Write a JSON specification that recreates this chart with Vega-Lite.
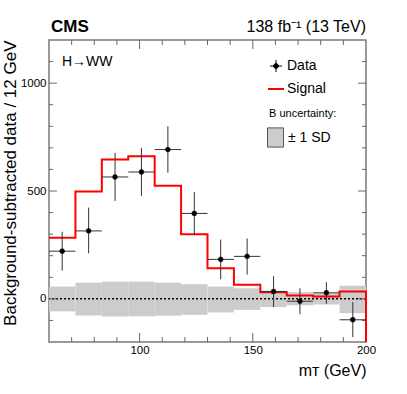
{
  "$schema": "https://vega.github.io/schema/vega-lite/v6.json",
  "width": 317,
  "height": 302,
  "autosize": "none",
  "padding": {"left": 49, "top": 40, "right": 41, "bottom": 52},
  "datasets": {
    "bins": [
      {"lo": 60, "hi": 71.67, "mid": 65.83, "data": 221, "dlo": 131, "dhi": 311, "blo": -58, "bhi": 57},
      {"lo": 71.67, "hi": 83.33, "mid": 77.5, "data": 315, "dlo": 211, "dhi": 423, "blo": -77, "bhi": 75},
      {"lo": 83.33, "hi": 95, "mid": 89.17, "data": 565, "dlo": 454, "dhi": 677, "blo": -82, "bhi": 80},
      {"lo": 95, "hi": 106.67, "mid": 100.83, "data": 588, "dlo": 477, "dhi": 700, "blo": -81, "bhi": 80},
      {"lo": 106.67, "hi": 118.33, "mid": 112.5, "data": 692, "dlo": 585, "dhi": 800, "blo": -78, "bhi": 75},
      {"lo": 118.33, "hi": 130, "mid": 124.17, "data": 396, "dlo": 295, "dhi": 495, "blo": -74, "bhi": 68},
      {"lo": 130, "hi": 141.67, "mid": 135.83, "data": 183, "dlo": 91, "dhi": 275, "blo": -63, "bhi": 57},
      {"lo": 141.67, "hi": 153.33, "mid": 147.5, "data": 197, "dlo": 112, "dhi": 280, "blo": -51, "bhi": 49},
      {"lo": 153.33, "hi": 165, "mid": 159.17, "data": 34, "dlo": -38, "dhi": 105, "blo": -38, "bhi": 38},
      {"lo": 165, "hi": 176.67, "mid": 170.83, "data": -11, "dlo": -71, "dhi": 49, "blo": -30, "bhi": 31},
      {"lo": 176.67, "hi": 188.33, "mid": 182.5, "data": 28, "dlo": -23, "dhi": 78, "blo": -26, "bhi": 26},
      {"lo": 188.33, "hi": 200, "mid": 194.17, "data": -97, "dlo": -177, "dhi": -15, "blo": -66, "bhi": 61}
    ],
    "signal": [
      {"x": 60, "sig": 283},
      {"x": 71.67, "sig": 498},
      {"x": 83.33, "sig": 646},
      {"x": 95, "sig": 661},
      {"x": 106.67, "sig": 524},
      {"x": 118.33, "sig": 300},
      {"x": 130, "sig": 142},
      {"x": 141.67, "sig": 65},
      {"x": 153.33, "sig": 31},
      {"x": 165, "sig": 15},
      {"x": 176.67, "sig": 11},
      {"x": 188.33, "sig": 34},
      {"x": 200, "sig": 34},
      {"x": 200, "sig": -200}
    ],
    "xmaj": [{"v": 100}, {"v": 150}],
    "xmin": [{"v": 70}, {"v": 80}, {"v": 90}, {"v": 110}, {"v": 120}, {"v": 130}, {"v": 140}, {"v": 160}, {"v": 170}, {"v": 180}, {"v": 190}],
    "ymaj": [{"v": 0}, {"v": 500}, {"v": 1000}],
    "ymin": [{"v": -100}, {"v": 100}, {"v": 200}, {"v": 300}, {"v": 400}, {"v": 600}, {"v": 700}, {"v": 800}, {"v": 900}, {"v": 1100}]
  },
  "resolve": {"axis": {"x": "independent", "y": "independent"}},
  "layer": [
    {
      "data": {"name": "bins"},
      "mark": {"type": "rect", "opacity": 1},
      "encoding": {
        "x": {"field": "lo", "type": "quantitative", "scale": {"domain": [60, 200], "nice": false, "zero": false},
          "axis": {"orient": "bottom", "values": [100, 150, 200], "domain": false, "ticks": false,
            "labelPadding": 2, "labelFlush": false, "labelOverlap": false,
            "title": "mᴛ (GeV)", "titleAnchor": "end", "titleFontSize": 16, "titlePadding": 7}},
        "x2": {"field": "hi"},
        "y": {"field": "blo", "type": "quantitative", "scale": {"domain": [-200, 1200], "nice": false, "zero": false},
          "axis": {"orient": "left", "values": [0, 500, 1000], "domain": false, "ticks": false, "format": "d",
            "labelPadding": 3, "labelOverlap": false,
            "title": "Background-subtracted data / 12 GeV", "titleAnchor": "end", "titleFontSize": 17, "titlePadding": 1}},
        "y2": {"field": "bhi"},
        "fill": {"datum": "± 1 SD", "type": "nominal", "scale": {"domain": ["± 1 SD"], "range": ["#cccccc"]},
          "legend": {"title": "B uncertainty:", "orient": "none", "legendX": 218, "legendY": 68,
            "titleFont": "Liberation Sans", "titleFontSize": 11, "titleFontWeight": "normal", "titleColor": "black", "titlePadding": 10,
            "labelFont": "Liberation Sans", "labelFontSize": 14, "labelColor": "black", "labelOffset": 4,
            "symbolType": "M-1,-1.2H1V1.2H-1Z", "symbolSize": 256, "symbolStrokeColor": "#555555", "symbolStrokeWidth": 1,
            "encode": {"title": {"update": {"dx": {"value": 2}}}}}}
      }
    },
    {
      "data": {"values": [{}]},
      "mark": {"type": "rule", "color": "black", "strokeDash": [2, 2], "strokeWidth": 1.5},
      "encoding": {"y": {"datum": 0, "type": "quantitative", "axis": null}}
    },
    {
      "data": {"name": "xmaj"},
      "mark": {"type": "rule", "color": "#666666", "strokeWidth": 1},
      "encoding": {"x": {"field": "v", "type": "quantitative", "axis": null}, "y": {"datum": -200, "type": "quantitative", "axis": null}, "y2": {"datum": -158}}
    },
    {
      "data": {"name": "xmaj"},
      "mark": {"type": "rule", "color": "#666666", "strokeWidth": 1},
      "encoding": {"x": {"field": "v", "type": "quantitative", "axis": null}, "y": {"datum": 1200, "type": "quantitative", "axis": null}, "y2": {"datum": 1158}}
    },
    {
      "data": {"name": "xmin"},
      "mark": {"type": "rule", "color": "#666666", "strokeWidth": 1},
      "encoding": {"x": {"field": "v", "type": "quantitative", "axis": null}, "y": {"datum": -200, "type": "quantitative", "axis": null}, "y2": {"datum": -177}}
    },
    {
      "data": {"name": "xmin"},
      "mark": {"type": "rule", "color": "#666666", "strokeWidth": 1},
      "encoding": {"x": {"field": "v", "type": "quantitative", "axis": null}, "y": {"datum": 1200, "type": "quantitative", "axis": null}, "y2": {"datum": 1177}}
    },
    {
      "data": {"name": "ymaj"},
      "mark": {"type": "rule", "color": "#666666", "strokeWidth": 1},
      "encoding": {"y": {"field": "v", "type": "quantitative", "axis": null}, "x": {"datum": 60, "type": "quantitative", "axis": null}, "x2": {"datum": 63.5}}
    },
    {
      "data": {"name": "ymaj"},
      "mark": {"type": "rule", "color": "#666666", "strokeWidth": 1},
      "encoding": {"y": {"field": "v", "type": "quantitative", "axis": null}, "x": {"datum": 200, "type": "quantitative", "axis": null}, "x2": {"datum": 196.5}}
    },
    {
      "data": {"name": "ymin"},
      "mark": {"type": "rule", "color": "#666666", "strokeWidth": 1},
      "encoding": {"y": {"field": "v", "type": "quantitative", "axis": null}, "x": {"datum": 60, "type": "quantitative", "axis": null}, "x2": {"datum": 61.8}}
    },
    {
      "data": {"name": "ymin"},
      "mark": {"type": "rule", "color": "#666666", "strokeWidth": 1},
      "encoding": {"y": {"field": "v", "type": "quantitative", "axis": null}, "x": {"datum": 200, "type": "quantitative", "axis": null}, "x2": {"datum": 198.2}}
    },
    {
      "data": {"name": "signal"},
      "mark": {"type": "line", "interpolate": "step-after", "strokeWidth": 2},
      "encoding": {
        "x": {"field": "x", "type": "quantitative", "axis": null},
        "y": {"field": "sig", "type": "quantitative", "axis": null},
        "stroke": {"datum": "Signal", "type": "nominal", "scale": {"domain": ["Data", "Signal"], "range": ["#000000", "#ff0000"]},
          "legend": {"title": null, "orient": "none", "legendX": 220, "legendY": 19,
            "labelFont": "Liberation Sans", "labelFontSize": 14, "labelColor": "black", "labelOffset": 4, "rowPadding": 8,
            "symbolSize": 256,
            "encode": {"symbols": {"update": {
              "shape": {"signal": "datum.value === 'Data' ? 'M-0.75,0H0.75M0,-0.75V0.75M0.3,0A0.3,0.3 0 1,1 -0.3,0A0.3,0.3 0 1,1 0.3,0Z' : 'M-1,0H1'"},
              "fill": {"signal": "datum.value === 'Data' ? '#000000' : 'transparent'"},
              "stroke": {"signal": "datum.value === 'Data' ? '#333333' : '#ff0000'"},
              "strokeWidth": {"signal": "datum.value === 'Data' ? 1 : 2"},
              "opacity": {"value": 1}
            }}}}}
      }
    },
    {
      "data": {"name": "bins"},
      "mark": {"type": "rule", "color": "#333333", "strokeWidth": 1},
      "encoding": {
        "x": {"field": "mid", "type": "quantitative", "axis": null},
        "y": {"field": "dlo", "type": "quantitative", "axis": null},
        "y2": {"field": "dhi"}
      }
    },
    {
      "data": {"name": "bins"},
      "mark": {"type": "rule", "color": "#333333", "strokeWidth": 1},
      "encoding": {
        "x": {"field": "lo", "type": "quantitative", "axis": null},
        "x2": {"field": "hi"},
        "y": {"field": "data", "type": "quantitative", "axis": null}
      }
    },
    {
      "data": {"name": "bins"},
      "mark": {"type": "point", "filled": true, "fill": "black", "size": 24, "strokeWidth": 0.5, "opacity": 1},
      "encoding": {
        "x": {"field": "mid", "type": "quantitative", "axis": null},
        "y": {"field": "data", "type": "quantitative", "axis": null},
        "stroke": {"datum": "Data", "type": "nominal"}
      }
    },
    {
      "data": {"values": [{}]},
      "mark": {"type": "text", "text": "CMS", "align": "left", "baseline": "alphabetic", "dy": -8, "dx": 2, "font": "Liberation Sans", "fontSize": 17, "fontWeight": "bold", "color": "black"},
      "encoding": {"x": {"datum": 60, "type": "quantitative", "axis": null}, "y": {"datum": 1200, "type": "quantitative", "axis": null}}
    },
    {
      "data": {"values": [{}]},
      "mark": {"type": "text", "text": "138 fb⁻¹ (13 TeV)", "align": "right", "baseline": "alphabetic", "dy": -8, "font": "Liberation Sans", "fontSize": 16, "color": "black"},
      "encoding": {"x": {"datum": 200, "type": "quantitative", "axis": null}, "y": {"datum": 1200, "type": "quantitative", "axis": null}}
    },
    {
      "data": {"values": [{}]},
      "mark": {"type": "text", "text": "H→WW", "align": "left", "baseline": "alphabetic", "font": "Liberation Sans", "fontSize": 14, "color": "black"},
      "encoding": {"x": {"datum": 65.7, "type": "quantitative", "axis": null}, "y": {"datum": 1080, "type": "quantitative", "axis": null}}
    }
  ],
  "config": {
    "view": {"stroke": "#7a7a7a", "strokeWidth": 1.5},
    "axis": {"grid": false,
      "labelFont": "Liberation Sans", "labelFontSize": 11.5, "labelColor": "black",
      "titleFont": "Liberation Sans", "titleFontWeight": "normal", "titleColor": "black"},
    "legend": {"symbolOpacity": 1}
  }
}
